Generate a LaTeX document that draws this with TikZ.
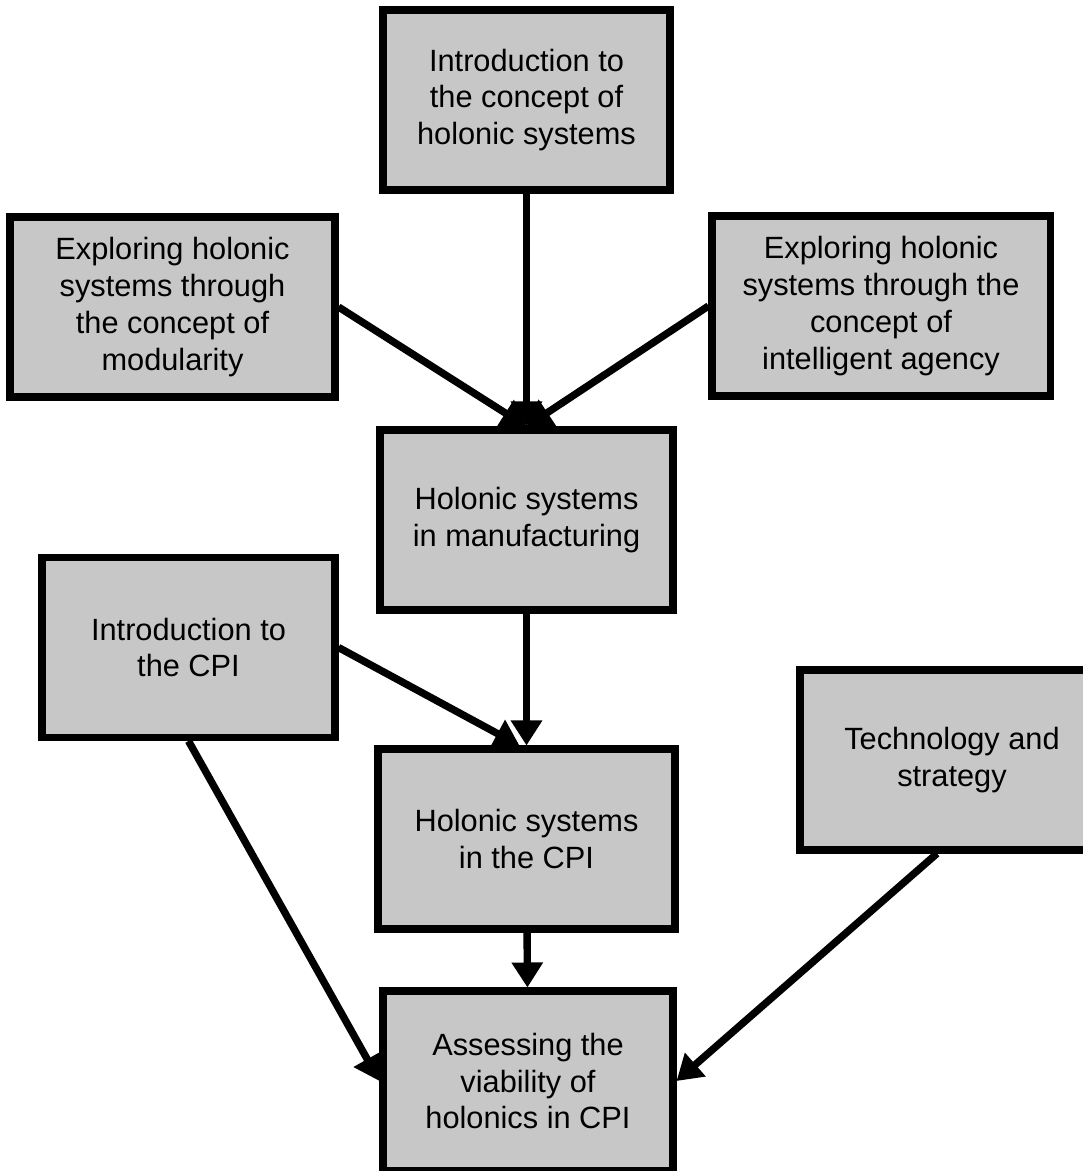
\documentclass[tikz,border=0pt]{standalone}
\usepackage{fontspec}
\setmainfont{Liberation Sans}
\usetikzlibrary{arrows.meta, positioning}

\begin{document}
\begin{tikzpicture}[
    box/.style={rectangle, draw=black, fill=black!22, line width=4pt,
                minimum width=#1, minimum height=3.6cm, align=center,
                font=\fontsize{17.5}{21}\selectfont, inner sep=2pt},
    arrow/.style={-{Triangle[length=0.5cm, width=0.6cm]}, line width=4.2pt, black}
]
    \useasboundingbox (0,0) rectangle (21.64,-23.42);

    % Holonic concept
    \node[box=5.74cm] (intro) at (10.53,-2.00) {Introduction to\\the concept of\\holonic systems};
    \node[box=6.50cm] (modular) at (3.45,-6.14) {Exploring holonic\\systems through\\the concept of\\modularity};
    \node[box=6.76cm] (agency) at (17.62,-6.12) {Exploring holonic\\systems through the\\concept of\\intelligent agency};
    \node[box=5.86cm] (manuf) at (10.53,-10.40) {Holonic systems\\in manufacturing};

    % CPI
    \node[box=5.86cm] (cpiintro) at (3.77,-12.95) {Introduction to\\the CPI};
    \node[box=5.94cm] (cpi) at (10.53,-16.78) {Holonic systems\\in the CPI};
    \node[box=6.08cm] (tech) at (19.04,-15.20) {Technology and\\strategy};
    \node[box=5.80cm] (assess) at (10.56,-21.62) {Assessing the\\viability of\\holonics in CPI};

    \draw[arrow] (intro) -- (manuf);
    \draw[arrow] (modular.east) -- (manuf.north);
    \draw[arrow] (agency.west) -- (manuf.north);
    \draw[arrow] (manuf) -- (cpi);
    \draw[arrow] (cpiintro.east) -- ([xshift=-4pt]cpi.north);
    \draw[arrow] (cpi) -- (assess);
    \draw[arrow] (cpiintro.south) -- (assess.west);
    \draw[arrow] ([xshift=-0.3cm]tech.south) -- (assess.east);
\end{tikzpicture}
\end{document}
